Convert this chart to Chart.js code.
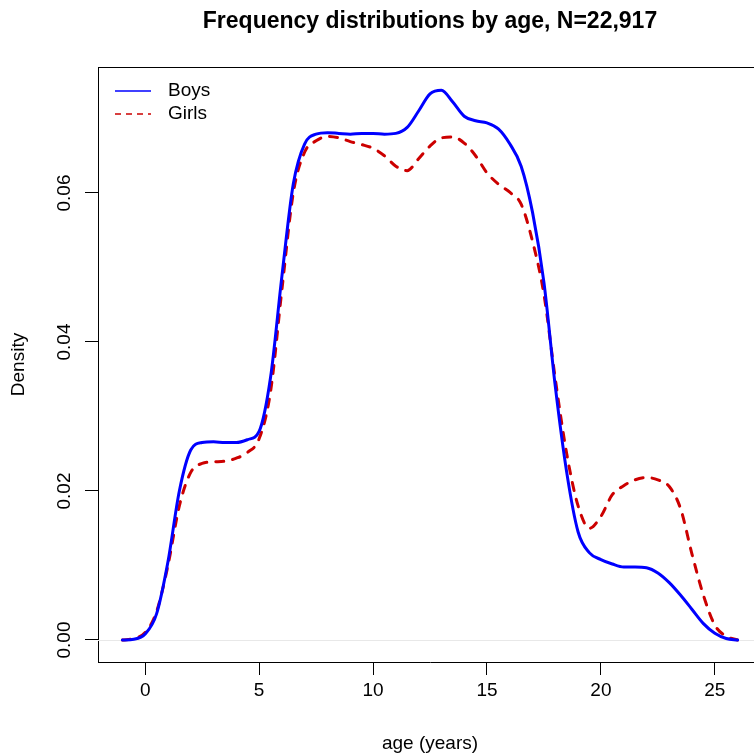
<!DOCTYPE html>
<html><head><meta charset="utf-8">
<script src="https://cdn.jsdelivr.net/npm/chart.js@4"></script>
<style>html,body{margin:0;padding:0;overflow:hidden;background:#fff}#wrap{width:770px;height:755px}</style>
</head><body><div id="wrap"><canvas id="c" width="770" height="755"></canvas></div>
<script>
const chartTitle = 'Frequency distributions by age, N=22,917';
const xLabel = 'age (years)';
const yLabel = 'Density';
const seriesNames = ['Boys', 'Girls'];
const ages = [-1, -0.5, 0, 0.5, 1, 1.5, 2, 2.5, 3, 3.5, 4, 4.5, 5, 5.5, 6, 6.5, 7, 7.5, 8, 8.5, 9, 9.5, 10, 10.5, 11, 11.5, 12, 12.5, 13, 13.5, 14, 14.5, 15, 15.5, 16, 16.5, 17, 17.5, 18, 18.5, 19, 19.5, 20, 20.5, 21, 21.5, 22, 22.5, 23, 23.5, 24, 24.5, 25, 25.5, 26];
const boys = [0, 0.0001, 0.0008, 0.0035, 0.0105, 0.0200, 0.0255, 0.0265, 0.0266, 0.0265, 0.0265, 0.0269, 0.0280, 0.0352, 0.0488, 0.0612, 0.0666, 0.0679, 0.0681, 0.0680, 0.0679, 0.0680, 0.0680, 0.0679, 0.0680, 0.0688, 0.0710, 0.0733, 0.0738, 0.0722, 0.0703, 0.0697, 0.0694, 0.0686, 0.0666, 0.0636, 0.0574, 0.0480, 0.0340, 0.0225, 0.0145, 0.0117, 0.0108, 0.0102, 0.0098, 0.0098, 0.0097, 0.0090, 0.0077, 0.0060, 0.0041, 0.0022, 0.0009, 0.0002, 0];
const girls = [0, 0.0002, 0.0010, 0.0038, 0.0100, 0.0180, 0.0225, 0.0237, 0.0239, 0.0240, 0.0244, 0.0252, 0.0270, 0.0333, 0.0470, 0.0600, 0.0655, 0.0670, 0.0676, 0.0674, 0.0669, 0.0665, 0.0660, 0.0650, 0.0636, 0.0630, 0.0646, 0.0663, 0.0674, 0.0675, 0.0667, 0.0650, 0.0627, 0.0612, 0.0601, 0.0585, 0.0535, 0.0464, 0.0350, 0.0250, 0.0180, 0.0150, 0.0166, 0.0195, 0.0207, 0.0215, 0.0218, 0.0215, 0.0206, 0.0176, 0.0115, 0.0060, 0.0020, 0.0005, 0];
const xTicks = [0, 5, 10, 15, 20, 25];
const yTicks = [0, 0.02, 0.04, 0.06];
const yTickLabels = ['0.00', '0.02', '0.04', '0.06'];

const FONT = '"Liberation Sans", Arial, Helvetica, sans-serif';
const boysColor = '#0000FF';
const girlsColor = '#CC0000';

const rBox = {
  id: 'rBox',
  beforeDatasetsDraw(chart) {
    const {ctx, chartArea: a, scales: {y}} = chart;
    const y0 = Math.round(y.getPixelForValue(0)) + 0.5;
    ctx.save();
    ctx.strokeStyle = '#e8e8e8';
    ctx.lineWidth = 1;
    ctx.beginPath(); ctx.moveTo(a.left, y0); ctx.lineTo(a.right, y0); ctx.stroke();
    ctx.restore();
  },
  afterDraw(chart) {
    const {ctx, chartArea: a} = chart;
    ctx.save();
    ctx.strokeStyle = '#000';
    ctx.lineWidth = 1;
    ctx.beginPath();
    ctx.moveTo(a.left, Math.round(a.top) + 0.5);
    ctx.lineTo(a.right, Math.round(a.top) + 0.5);
    ctx.lineTo(a.right, a.bottom);
    ctx.stroke();
    // legend
    ctx.font = '19px ' + FONT;
    ctx.textBaseline = 'middle';
    ctx.textAlign = 'left';
    chart.data.datasets.forEach((ds, i) => {
      const ly = a.top + 24 + i * 23;
      ctx.strokeStyle = ds.borderColor;
      ctx.lineWidth = 1.5;
      ctx.setLineDash(i === 0 ? [] : [6, 5]);
      ctx.beginPath(); ctx.moveTo(a.left + 17, ly); ctx.lineTo(a.left + 53, ly); ctx.stroke();
      ctx.setLineDash([]);
      ctx.fillStyle = '#000';
      ctx.fillText(ds.label, a.left + 70, ly);
    });
    ctx.restore();
  }
};

new Chart(document.getElementById('c'), {
  type: 'line',
  data: {
    datasets: [
      { label: seriesNames[0], data: ages.map((a, i) => ({x: a, y: boys[i]})), borderColor: boysColor, borderWidth: 3, pointRadius: 0, cubicInterpolationMode: 'monotone', fill: false, borderCapStyle: 'round' },
      { label: seriesNames[1], data: ages.map((a, i) => ({x: a, y: girls[i]})), borderColor: girlsColor, borderWidth: 3, pointRadius: 0, cubicInterpolationMode: 'monotone', fill: false, borderDash: [8, 9], borderCapStyle: 'round' }
    ]
  },
  options: {
    responsive: false,
    animation: false,
    layout: { padding: { left: 0, right: 8, top: 0, bottom: 0 } },
    plugins: {
      legend: { display: false },
      tooltip: { enabled: false },
      title: {
        display: true, text: chartTitle, fullSize: false, color: '#000',
        font: { family: FONT, size: 23, weight: 'bold' },
        padding: { top: 8, bottom: 31.4 }
      }
    },
    scales: {
      x: {
        type: 'linear', position: 'bottom', min: -2.07, max: 27.07,
        afterBuildTicks: s => { s.ticks = xTicks.map(v => ({value: v})); },
        afterFit: s => { s.height = 93; },
        grid: { drawOnChartArea: false, drawTicks: true, tickLength: 13, color: '#000', lineWidth: 1 },
        border: { display: true, color: '#000', width: 1 },
        ticks: { color: '#000', font: { family: FONT, size: 19 }, padding: 4, maxRotation: 0, autoSkip: false },
        title: { display: true, text: xLabel, color: '#000', font: { family: FONT, size: 19 }, padding: { top: 0, bottom: 0 } }
      },
      y: {
        type: 'linear', position: 'left', min: -0.002953, max: 0.07691,
        afterBuildTicks: s => { s.ticks = yTicks.map(v => ({value: v})); },
        afterFit: s => { s.width = 98; },
        grid: { drawOnChartArea: false, drawTicks: true, tickLength: 13, color: '#000', lineWidth: 1 },
        border: { display: true, color: '#000', width: 1 },
        ticks: {
          color: '#000', font: { family: FONT, size: 19 }, padding: 2, minRotation: 90, maxRotation: 90,
          crossAlign: 'center', autoSkip: false,
          callback: (v) => { const k = yTicks.indexOf(v); return k >= 0 ? yTickLabels[k] : ''; }
        },
        title: { display: true, text: yLabel, color: '#000', font: { family: FONT, size: 19 }, padding: { top: 7, bottom: 0 } }
      }
    }
  },
  plugins: [rBox]
});
</script></body></html>
